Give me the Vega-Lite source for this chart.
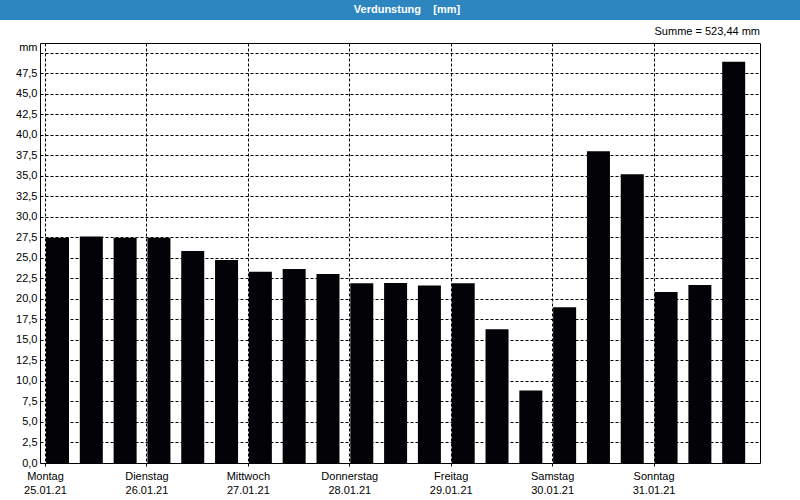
{
  "$schema": "https://vega.github.io/schema/vega-lite/v6.json",
  "padding": 0,
  "spacing": 5,
  "background": "white",
  "config": {
    "font": "Liberation Sans",
    "view": {"stroke": "black"},
    "axis": {"labelFont": "Liberation Sans", "labelFontSize": 11, "labelColor": "black"}
  },
  "datasets": {
    "verdunstung": [
      {"t": "2021-01-25T00:00:00", "v": 27.45},
      {"t": "2021-01-25T08:00:00", "v": 27.6},
      {"t": "2021-01-25T16:00:00", "v": 27.45},
      {"t": "2021-01-26T00:00:00", "v": 27.45},
      {"t": "2021-01-26T08:00:00", "v": 25.85},
      {"t": "2021-01-26T16:00:00", "v": 24.75},
      {"t": "2021-01-27T00:00:00", "v": 23.3},
      {"t": "2021-01-27T08:00:00", "v": 23.65},
      {"t": "2021-01-27T16:00:00", "v": 23.05},
      {"t": "2021-01-28T00:00:00", "v": 21.9},
      {"t": "2021-01-28T08:00:00", "v": 21.95},
      {"t": "2021-01-28T16:00:00", "v": 21.65},
      {"t": "2021-01-29T00:00:00", "v": 21.9},
      {"t": "2021-01-29T08:00:00", "v": 16.3},
      {"t": "2021-01-29T16:00:00", "v": 8.85},
      {"t": "2021-01-30T00:00:00", "v": 19.0},
      {"t": "2021-01-30T08:00:00", "v": 38.0},
      {"t": "2021-01-30T16:00:00", "v": 35.2},
      {"t": "2021-01-31T00:00:00", "v": 20.85},
      {"t": "2021-01-31T08:00:00", "v": 21.7},
      {"t": "2021-01-31T16:00:00", "v": 48.9}
    ]
  },
  "vconcat": [
    {
      "width": 720,
      "height": 20,
      "view": {"fill": null, "stroke": null},
      "data": {"values": [{"label": "Verdunstung\u00a0\u00a0\u00a0\u00a0[mm]"}]},
      "layer": [
        {
          "mark": {"type": "rect", "color": "#2e86c1", "clip": false},
          "encoding": {
            "x": {"datum": {"year": 2021, "month": "Jan", "date": 24, "hours": 14, "minutes": 40}, "type": "temporal",
                  "scale": {"domain": [{"year": 2021, "month": "Jan", "date": 25}, {"year": 2021, "month": "Feb", "date": 1}], "nice": false},
                  "axis": null},
            "x2": {"datum": {"year": 2021, "month": "Feb", "date": 1, "hours": 9, "minutes": 20}}
          }
        },
        {
          "mark": {"type": "text", "color": "white", "fontWeight": "bold", "font": "Liberation Sans", "fontSize": 11, "dx": 7},
          "encoding": {
            "x": {"datum": {"year": 2021, "month": "Jan", "date": 28, "hours": 12}, "type": "temporal"},
            "text": {"field": "label"}
          }
        }
      ]
    },
    {
      "width": 720,
      "height": 420,
      "title": {"text": "Summe = 523,44 mm", "anchor": "end", "fontSize": 11, "fontWeight": "normal", "color": "black", "offset": 5, "font": "Liberation Sans"},
      "view": {"fill": "white", "stroke": "black", "strokeWidth": 1},
      "data": {"name": "verdunstung"},
      "mark": {"type": "bar", "color": "#030206", "width": 23, "xOffset": 12.5},
      "encoding": {
        "x": {
          "field": "t", "type": "temporal",
          "scale": {"domain": [{"year": 2021, "month": "Jan", "date": 25}, {"year": 2021, "month": "Feb", "date": 1}], "nice": false},
          "axis": {
            "title": null,
            "domain": false,
            "values": [
              {"year": 2021, "month": "Jan", "date": 25},
              {"year": 2021, "month": "Jan", "date": 26},
              {"year": 2021, "month": "Jan", "date": 27},
              {"year": 2021, "month": "Jan", "date": 28},
              {"year": 2021, "month": "Jan", "date": 29},
              {"year": 2021, "month": "Jan", "date": 30},
              {"year": 2021, "month": "Jan", "date": 31}
            ],
            "labelExpr": "[['Sonntag','Montag','Dienstag','Mittwoch','Donnerstag','Freitag','Samstag'][day(datum.value)], timeFormat(datum.value, '%d.%m.%y')]",
            "labelFlush": false,
            "labelOverlap": false,
            "labelBound": false,
            "labelAlign": "center",
            "labelBaseline": "top",
            "labelLineHeight": 14,
            "labelPadding": 4,
            "ticks": true,
            "tickSize": 3,
            "tickColor": "black",
            "grid": true,
            "gridColor": "black",
            "gridDash": [3, 2],
            "gridOpacity": 1
          }
        },
        "y": {
          "field": "v", "type": "quantitative",
          "scale": {"domain": [0, 51.2], "nice": false, "zero": true},
          "axis": {
            "title": null,
            "domain": false,
            "ticks": false,
            "values": [0, 2.5, 5, 7.5, 10, 12.5, 15, 17.5, 20, 22.5, 25, 27.5, 30, 32.5, 35, 37.5, 40, 42.5, 45, 47.5, 50],
            "labelExpr": "datum.value == 50 ? 'mm' : replace(format(datum.value, '.1f'), '.', ',')",
            "labelBaseline": {"condition": {"test": "datum.value == 50", "value": "bottom"}, "value": "middle"},
            "labelPadding": 3,
            "minExtent": 37,
            "maxExtent": 37,
            "grid": true,
            "gridColor": "black",
            "gridDash": [3, 2],
            "gridOpacity": 1
          }
        }
      }
    }
  ]
}
